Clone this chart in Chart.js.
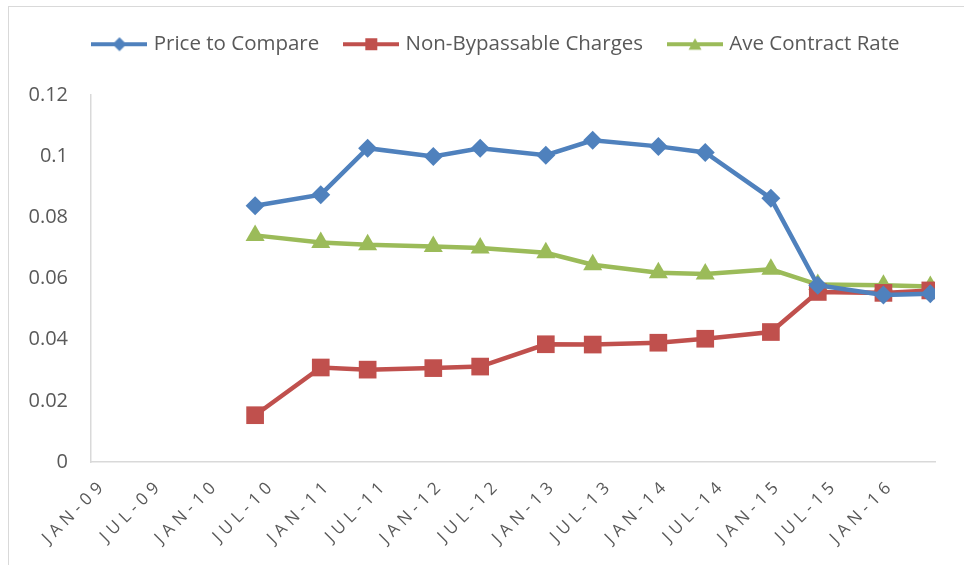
<!DOCTYPE html>
<html lang="en">
  <head>
    <meta charset="UTF-8" />
    <title>Price to Compare vs Non-Bypassable Charges</title>
    <script src="https://cdn.jsdelivr.net/npm/chart.js@4.4.1/dist/chart.umd.min.js"></script>
    <style>
      html,
      body {
        margin: 0;
        padding: 0;
        background: #fff;
      }
      #frame {
        position: relative;
        width: 964px;
        height: 565px;
        overflow: hidden;
      }
      #title {
        position: absolute;
        top: -27px;
        left: 0;
        width: 964px;
        text-align: center;
        font: bold 21px "Open Sans", sans-serif;
        color: #0e6b4e;
        white-space: nowrap;
      }
      #border {
        position: absolute;
        left: 8px;
        top: 6px;
        width: 1000px;
        height: 600px;
        border: 1px solid #d9d9d9;
      }
      #chartContainer {
        position: absolute;
        left: 0;
        top: 0;
        width: 964px;
        height: 565px;
      }
    </style>
  </head>
  <body>
    <div id="frame">
      <div id="title">Non-Bypassable Charges vs. Shopping Rates</div>
      <div id="border"></div>
      <div id="chartContainer"><canvas id="chart"></canvas></div>
    </div>

    <script>
      // readings, one per half year
      const periods = [
        "Jun-10", "Jan-11", "Jun-11", "Jan-12", "Jun-12", "Jan-13", "Jun-13",
        "Jan-14", "Jun-14", "Jan-15", "Jun-15", "Jan-16", "Jun-16",
      ];
      const priceToCompare = [
        0.0838, 0.0874, 0.1026, 0.0999, 0.1026, 0.1003, 0.1052,
        0.1032, 0.1012, 0.0862, 0.0578, 0.0546, 0.055,
      ];
      const nonBypassable = [
        0.0153, 0.0309, 0.0302, 0.0307, 0.0312, 0.0385, 0.0384,
        0.039, 0.0403, 0.0425, 0.0556, 0.0553, 0.0561,
      ];
      const aveContractRate = [
        0.0741, 0.0718, 0.071, 0.0705, 0.07, 0.0684, 0.0645,
        0.0619, 0.0615, 0.063, 0.058, 0.0578, 0.0574,
      ];
      const xTickLabels = [
        "JAN-09", "JUL-09", "JAN-10", "JUL-10", "JAN-11", "JUL-11", "JAN-12",
        "JUL-12", "JAN-13", "JUL-13", "JAN-14", "JUL-14", "JAN-15", "JUL-15",
        "JAN-16",
      ];
      const yTicks = [0, 0.02, 0.04, 0.06, 0.08, 0.1, 0.12];

      const MONTHS = ["Jan", "Feb", "Mar", "Apr", "May", "Jun", "Jul", "Aug", "Sep", "Oct", "Nov", "Dec"];
      // months since Jan-09, centred in the month like a date axis
      const toMonth = (label) => {
        const [m, yy] = label.split("-");
        return (2000 + Number(yy) - 2009) * 12 + MONTHS.indexOf(m) + 0.5;
      };
      const toPoints = (values) => values.map((v, i) => ({ x: toMonth(periods[i]), y: v }));

      const colors = { blue: "#4f81bd", red: "#c0504d", green: "#9bbb59" };
      const textColor = "#595959";

      const legendIcon = (color, style) => {
        const c = document.createElement("canvas");
        c.width = 56;
        c.height = 20;
        const ctx = c.getContext("2d");
        ctx.strokeStyle = color;
        ctx.fillStyle = color;
        ctx.lineWidth = 4;
        ctx.beginPath();
        ctx.moveTo(0, 10);
        ctx.lineTo(56, 10);
        ctx.stroke();
        ctx.beginPath();
        if (style === "diamond") {
          ctx.moveTo(28, 3); ctx.lineTo(35, 10); ctx.lineTo(28, 17); ctx.lineTo(21, 10);
        } else if (style === "square") {
          ctx.rect(22, 4, 12, 12);
        } else {
          ctx.moveTo(28, 4); ctx.lineTo(34.5, 15.5); ctx.lineTo(21.5, 15.5);
        }
        ctx.closePath();
        ctx.fill();
        return c;
      };
      const legendIcons = [
        legendIcon(colors.blue, "diamond"),
        legendIcon(colors.red, "square"),
        legendIcon(colors.green, "triangle"),
      ];

      // Excel spreads the rotated date labels out
      const spacedTicks = {
        id: "spacedTicks",
        beforeDraw(chart) {
          const scale = chart.scales.x;
          if (scale._spaced) return;
          const drawLabels = scale.drawLabels;
          scale.drawLabels = function (area) {
            this.ctx.save();
            this.ctx.letterSpacing = "5px";
            drawLabels.call(this, area);
            this.ctx.restore();
          };
          scale._spaced = true;
        },
      };

      // legend sits a little right of the plot centre and leaves a gap above the plot
      const legendBox = {
        id: "legendBox",
        afterInit(chart) {
          const legend = chart.legend;
          const fit = legend.fit;
          legend.fit = function () {
            fit.call(this);
            this.height = 89;
          };
          const draw = legend.draw;
          legend.draw = function () {
            this.ctx.save();
            this.ctx.translate(30, 0);
            draw.call(this);
            this.ctx.restore();
          };
        },
      };

      const series = (label, values, color, pointStyle, radius) => ({
        label,
        data: toPoints(values),
        borderColor: color,
        backgroundColor: color,
        borderWidth: 4.5,
        pointStyle,
        pointRadius: radius,
        pointHoverRadius: radius,
        pointBorderWidth: 0,
        tension: 0,
      });

      const chart = new Chart(document.getElementById("chart"), {
        type: "line",
        data: {
          datasets: [
            series("Price to Compare", priceToCompare, colors.blue, "rectRot", 9.5),
            series("Non-Bypassable Charges", nonBypassable, colors.red, "rect", 12.5),
            series("Ave Contract Rate", aveContractRate, colors.green, "triangle", 11),
          ],
        },
        options: {
          responsive: true,
          maintainAspectRatio: false,
          animation: false,
          layout: { padding: { top: 6, right: 29, bottom: 0, left: 0 } },
          plugins: {
            title: { display: false },
            tooltip: { enabled: false },
            legend: {
              position: "top",
              labels: {
                color: textColor,
                font: { family: "'Open Sans', sans-serif", size: 20.5 },
                usePointStyle: true,
                pointStyleWidth: 48,
                padding: 28,
                generateLabels(chart) {
                  const items = Chart.defaults.plugins.legend.labels.generateLabels(chart);
                  return items.map((item, i) => ({ ...item, pointStyle: legendIcons[i] }));
                },
              },
            },
          },
          scales: {
            x: {
              type: "linear",
              min: 0,
              max: 90,
              afterFit(scale) {
                scale.height = 103;
              },
              afterBuildTicks(scale) {
                scale.ticks = xTickLabels.map((_, i) => ({ value: i * 6 }));
              },
              grid: { display: false, drawTicks: false },
              border: { display: true, color: "#d9d9d9", width: 1.5 },
              ticks: {
                autoSkip: false,
                maxRotation: 45,
                minRotation: 45,
                padding: 13,
                labelOffset: 13,
                color: textColor,
                font: { family: "'Open Sans', sans-serif", size: 17 },
                callback: (v) => xTickLabels[Math.round(v / 6)],
              },
            },
            y: {
              min: 0,
              max: 0.12,
              afterFit(scale) {
                scale.width = 91;
              },
              afterBuildTicks(scale) {
                scale.ticks = yTicks.map((value) => ({ value }));
              },
              grid: { display: false, drawTicks: false },
              border: { display: true, color: "#d9d9d9", width: 1.5 },
              ticks: {
                padding: 23,
                color: textColor,
                font: { family: "'Open Sans', sans-serif", size: 20 },
                callback: (v) => String(+v.toFixed(2)),
              },
            },
          },
        },
        plugins: [spacedTicks, legendBox],
      });
    </script>
  </body>
</html>
